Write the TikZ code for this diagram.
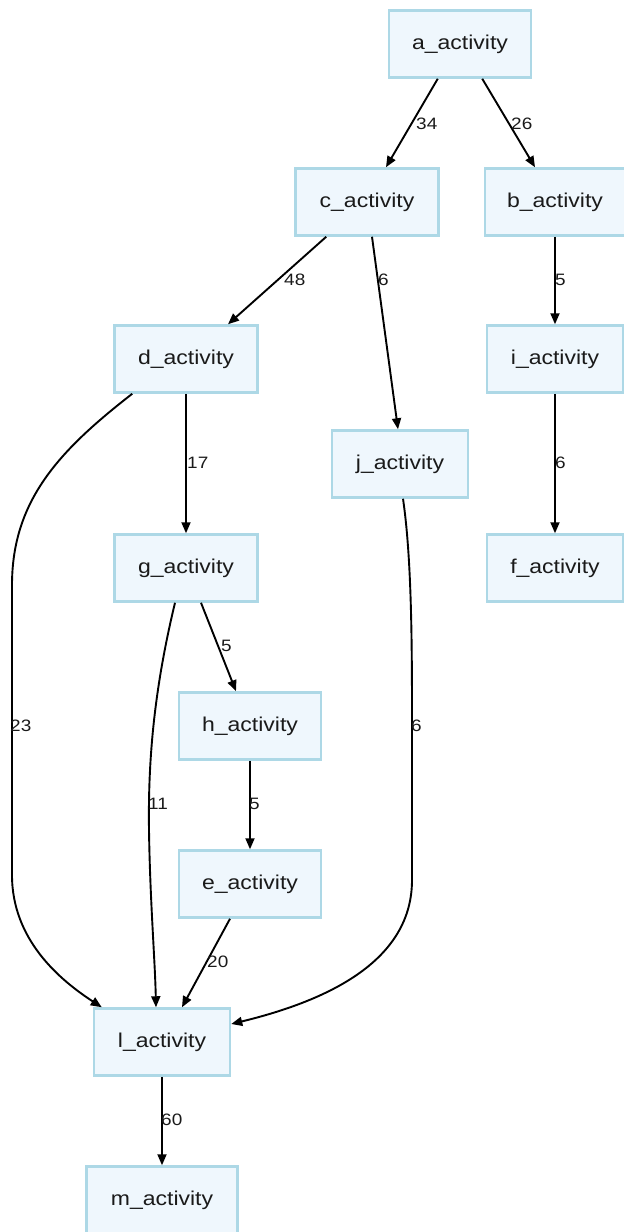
\documentclass[tikz,border=0pt]{standalone}
\usepackage{fontspec}
\setmainfont[FakeStretch=1.15]{Liberation Sans}
\usetikzlibrary{arrows.meta}
\definecolor{boxfill}{HTML}{EFF7FD}
\definecolor{boxline}{HTML}{ADD8E6}
\definecolor{txt}{HTML}{1A1A1A}
\tikzset{
  act/.style={rectangle, draw=boxline, fill=boxfill, line width=2.5pt, minimum height=67pt, inner sep=2pt,
    text=txt, font=\fontsize{20}{24}\selectfont},
  edge/.style={draw=black, line width=1.9pt, -{Triangle[length=11pt,width=9pt]}},
  lab/.style={anchor=west, inner sep=0pt, text=txt, font=\fontsize{16.5}{18}\selectfont}
}
\begin{document}
\begin{tikzpicture}[x=1pt,y=-1pt]
\useasboundingbox (0,0) rectangle (624,1232);
\node[act, minimum width=142pt] (a) at (460,44) {a\_activity};
\node[act, minimum width=143pt] (c) at (367,202) {c\_activity};
\node[act, minimum width=140pt] (b) at (555,202) {b\_activity};
\node[act, minimum width=143pt] (d) at (186,359) {d\_activity};
\node[act, minimum width=136pt] (i) at (555,359) {i\_activity};
\node[act, minimum width=136pt] (j) at (400,464) {j\_activity};
\node[act, minimum width=143pt] (g) at (186,568) {g\_activity};
\node[act, minimum width=136pt] (f) at (555,568) {f\_activity};
\node[act, minimum width=142pt] (h) at (250,726) {h\_activity};
\node[act, minimum width=142pt] (e) at (250,884) {e\_activity};
\node[act, minimum width=136pt] (l) at (162,1042) {l\_activity};
\node[act, minimum width=151pt] (m) at (162,1200) {m\_activity};

\draw[edge] ([xshift=50pt]a.south west) -- ([xshift=19pt]c.north);
\draw[edge] ([xshift=-50pt]a.south east) -- ([xshift=-20pt]b.north);
\draw[edge] ([xshift=32pt]c.south west) -- ([xshift=42pt]d.north);
\draw[edge] ([xshift=5pt]c.south) -- ([xshift=-2pt]j.north);
\draw[edge] (b.south) -- (i.north);
\draw[edge] (i.south) -- (f.north);
\draw[edge] (d.south) -- (g.north);
\draw[edge] ([xshift=19pt]d.south west) .. controls (60,450) and (12,500) .. (12,585) -- (12,875) .. controls (12,940) and (60,980) .. ([xshift=9pt]l.north west);
\draw[edge] ([xshift=15pt]g.south) -- ([xshift=-14pt]h.north);
\draw[edge] ([xshift=-11pt]g.south) .. controls (154,690) and (148,760) .. (149,830) .. controls (150,900) and (155,960) .. ([xshift=-6pt]l.north);
\draw[edge] (h.south) -- (e.north);
\draw[edge] ([xshift=-20pt]e.south) -- ([xshift=20pt]l.north);
\draw[edge] ([xshift=3pt]j.south) .. controls (412,560) and (412,650) .. (412,730) -- (412,880) .. controls (412,960) and (330,1000) .. ([yshift=18pt]l.east);
\draw[edge] (l.south) -- (m.north);

\node[lab] (l34) at (416,124) {34};
\node[lab] (l26) at (511,124) {26};
\node[lab] (l48) at (284,280) {48};
\node[lab] (l6a) at (378,280) {6};
\node[lab] (l5a) at (555,280) {5};
\node[lab] (l6b) at (555,463) {6};
\node[lab] (l17) at (187,463) {17};
\node[lab] (l23) at (10,726) {23};
\node[lab] (l5b) at (221,646) {5};
\node[lab] (l11) at (148,804) {11};
\node[lab] (l5c) at (249,804) {5};
\node[lab] (l6c) at (411,726) {6};
\node[lab] (l20) at (207,962) {20};
\node[lab] (l60) at (161,1120) {60};
\end{tikzpicture}
\end{document}
